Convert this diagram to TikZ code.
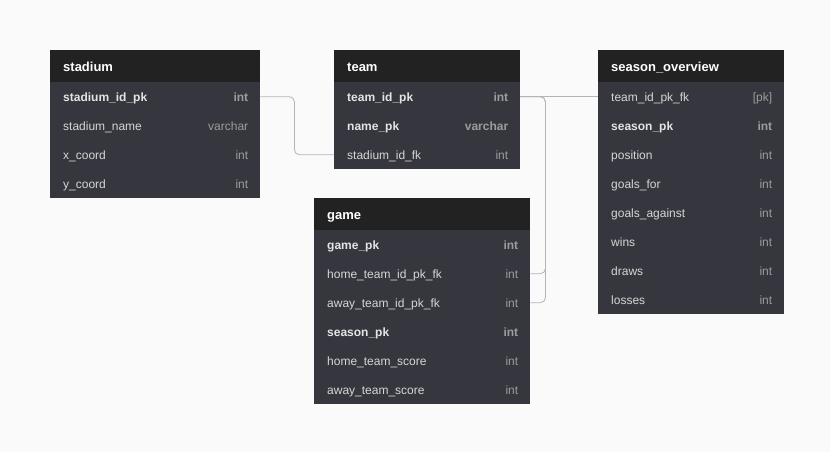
\documentclass[tikz,border=0pt]{standalone}
\usepackage{fontspec}
\setmainfont{Liberation Sans}
\definecolor{bgcol}{HTML}{FAFAFA}
\definecolor{hdrcol}{HTML}{222222}
\definecolor{rowcol}{HTML}{36363E}
\definecolor{keytxt}{HTML}{E4E4E4}
\definecolor{fldtxt}{HTML}{D6D6D6}
\definecolor{typtxt}{HTML}{9C9C9C}
\definecolor{linkcol}{HTML}{B4B4BC}
\tikzset{
  cell/.style={anchor=north west, inner xsep=13pt, inner ysep=0pt, align=left,
    text height=10pt, text depth=1pt},
  hdr/.style={cell, fill=hdrcol, text=white, font=\fontsize{13}{15}\selectfont\bfseries,
    minimum height=32pt, text height=11pt, text depth=0pt},
  row/.style={cell, fill=rowcol, minimum height=29pt},
  key/.style={font=\fontsize{12}{14}\selectfont\bfseries, text=keytxt},
  fld/.style={font=\fontsize{12}{14}\selectfont, text=fldtxt},
  typ/.style={anchor=east, inner sep=0pt, text=typtxt, text height=10pt, text depth=1pt},
  link/.style={draw=linkcol, line width=0.8pt, rounded corners=5pt}
}

\begin{document}
\begin{tikzpicture}[x=1pt,y=-1pt]
    \fill[bgcol] (0,0) rectangle (830,452);
    \useasboundingbox (0,0) rectangle (830,452);
    % stadium
    \node[hdr, text width=184pt] (stadium) at (50,50) {stadium};
    \foreach \fld/\typ/\k [count=\i] in {stadium\_id\_pk/int/key, stadium\_name/varchar/fld,
        x\_coord/int/fld, y\_coord/int/fld}{
        \node[row, \k, text width=184pt] (stadium-\i) at (50,{53+29*\i}) {\fld};
        \node[\k, typ] at ([xshift=-12pt]stadium-\i.east) {\typ};
    }
    % team
    \node[hdr, text width=160pt] (team) at (334,50) {team};
    \foreach \fld/\typ/\k [count=\i] in {team\_id\_pk/int/key, name\_pk/varchar/key,
        stadium\_id\_fk/int/fld}{
        \node[row, \k, text width=160pt] (team-\i) at (334,{53+29*\i}) {\fld};
        \node[\k, typ] at ([xshift=-12pt]team-\i.east) {\typ};
    }
    % season_overview
    \node[hdr, text width=160pt] (season) at (598,50) {season\_overview};
    \foreach \fld/\typ/\k [count=\i] in {team\_id\_pk\_fk/[pk]/fld, season\_pk/int/key,
        position/int/fld, goals\_for/int/fld, goals\_against/int/fld, wins/int/fld,
        draws/int/fld, losses/int/fld}{
        \node[row, \k, text width=160pt] (season-\i) at (598,{53+29*\i}) {\fld};
        \node[\k, typ] at ([xshift=-12pt]season-\i.east) {\typ};
    }
    % game
    \node[hdr, text width=190pt] (game) at (314,198) {game};
    \foreach \fld/\typ/\k [count=\i] in {game\_pk/int/key, home\_team\_id\_pk\_fk/int/fld,
        away\_team\_id\_pk\_fk/int/fld, season\_pk/int/key, home\_team\_score/int/fld,
        away\_team\_score/int/fld}{
        \node[row, \k, text width=190pt] (game-\i) at (314,{201+29*\i}) {\fld};
        \node[\k, typ] at ([xshift=-12pt]game-\i.east) {\typ};
    }
    % links
    \draw[link] (stadium-1.east) -- ++(34,0) |- (team-3.west);
    \draw[link] (team-1.east) -- (season-1.west);
    \draw[link] (team-1.east) -- ++(25,0) |- (game-2.east);
    \draw[link] (team-1.east) -- ++(25,0) |- (game-3.east);
\end{tikzpicture}
\end{document}
